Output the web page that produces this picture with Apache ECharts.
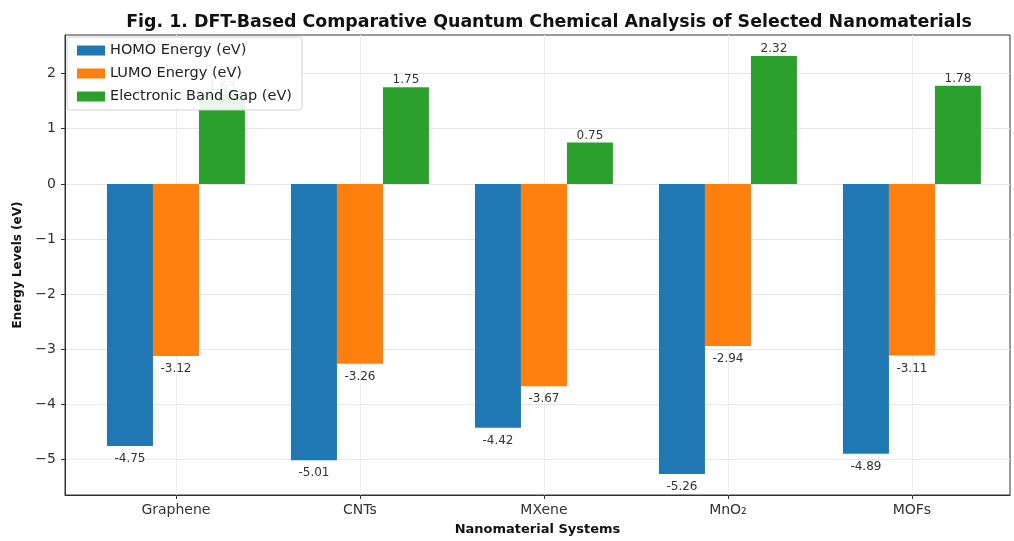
<!DOCTYPE html>
<html>
<head>
<meta charset="utf-8">
<script src="https://cdn.jsdelivr.net/npm/echarts@6/dist/echarts.min.js"></script>
<style>html,body{margin:0;padding:0;background:#fff;overflow:hidden}#c{width:1014px;height:541px}</style>
</head>
<body>
<div id="c"></div>
<script>
const categories = ['Graphene', 'CNTs', 'MXene', 'MnO\u2082', 'MOFs'];
const homo = [-4.75, -5.01, -4.42, -5.26, -4.89];
const lumo = [-3.12, -3.26, -3.67, -2.94, -3.11];
const gap = [1.63, 1.75, 0.75, 2.32, 1.78];
const yTicks = [-5, -4, -3, -2, -1, 0, 1, 2];
const xTicks = [0, 1, 2, 3, 4];

const F = 'DejaVu Sans';
const chart = echarts.init(document.getElementById('c'), null, {renderer: 'canvas', width: 1014, height: 541});
const toPts = arr => arr.map((v, i) => [i, v]);
const lbl = (pos, dist) => ({
  show: true, position: pos, distance: dist,
  fontFamily: F, fontSize: 12, color: '#333',
  formatter: p => p.value[1].toFixed(2)
});
chart.setOption({
  animation: false,
  backgroundColor: '#fff',
  title: {
    text: 'Fig. 1. DFT-Based Comparative Quantum Chemical Analysis of Selected Nanomaterials',
    left: 544, top: 9, textAlign: 'center',
    textStyle: {fontFamily: F, fontWeight: 'bold', fontSize: 17.4, color: '#111'}
  },
  legend: {
    orient: 'vertical', left: 67, top: 37,
    padding: [6, 10, 6, 10], itemGap: 8, itemWidth: 28, itemHeight: 10,
    icon: 'rect',
    backgroundColor: 'rgba(255,255,255,0.9)', borderColor: '#d0d0d0', borderWidth: 1, borderRadius: 3,
    textStyle: {fontFamily: F, fontSize: 14.5, color: '#222'},
    data: ['HOMO Energy (eV)', 'LUMO Energy (eV)', 'Electronic Band Gap (eV)']
  },
  grid: {left: 65, width: 945, top: 35, height: 466, show: true, borderColor: '#333', borderWidth: 1, backgroundColor: 'transparent'},
  xAxis: {
    type: 'value', min: -0.603, max: 4.533,
    name: 'Nanomaterial Systems', nameLocation: 'middle', nameGap: 28,
    nameTextStyle: {fontFamily: F, fontWeight: 'bold', fontSize: 13, color: '#111'},
    axisLine: {show: true, onZero: false, lineStyle: {color: '#333'}},
    axisTick: {show: true, customValues: xTicks, length: 4, lineStyle: {color: '#333'}},
    axisLabel: {customValues: xTicks, fontFamily: F, fontSize: 14, color: '#333', margin: 8,
      formatter: v => categories[Math.round(v)]},
    splitLine: {show: true, lineStyle: {color: '#ececec'}}
  },
  yAxis: {
    type: 'value', min: -5.639, max: 2.699,
    name: 'Energy Levels (eV)', nameLocation: 'middle', nameGap: 41,
    nameTextStyle: {fontFamily: F, fontWeight: 'bold', fontSize: 12, color: '#111'},
    axisLine: {show: true, onZero: false, lineStyle: {color: '#333'}},
    axisTick: {show: true, customValues: yTicks, length: 4, lineStyle: {color: '#333'}},
    axisLabel: {customValues: yTicks, fontFamily: F, fontSize: 14, color: '#333', margin: 9,
      formatter: v => (v < 0 ? '\u2212' + Math.abs(v) : String(v))},
    splitLine: {show: true, lineStyle: {color: '#e6e6e6'}}
  },
  series: [
    {name: 'HOMO Energy (eV)', type: 'bar', data: toPts(homo), barWidth: '25%', barGap: '0%',
      itemStyle: {color: '#1f77b4'}, label: lbl('bottom', 7)},
    {name: 'LUMO Energy (eV)', type: 'bar', data: toPts(lumo), barWidth: '25%', barGap: '0%',
      itemStyle: {color: '#ff7f0e'}, label: lbl('bottom', 7)},
    {name: 'Electronic Band Gap (eV)', type: 'bar', data: toPts(gap), barWidth: '25%', barGap: '0%',
      itemStyle: {color: '#2ca02c'}, label: lbl('top', 1)}
  ]
});
</script>
</body>
</html>
